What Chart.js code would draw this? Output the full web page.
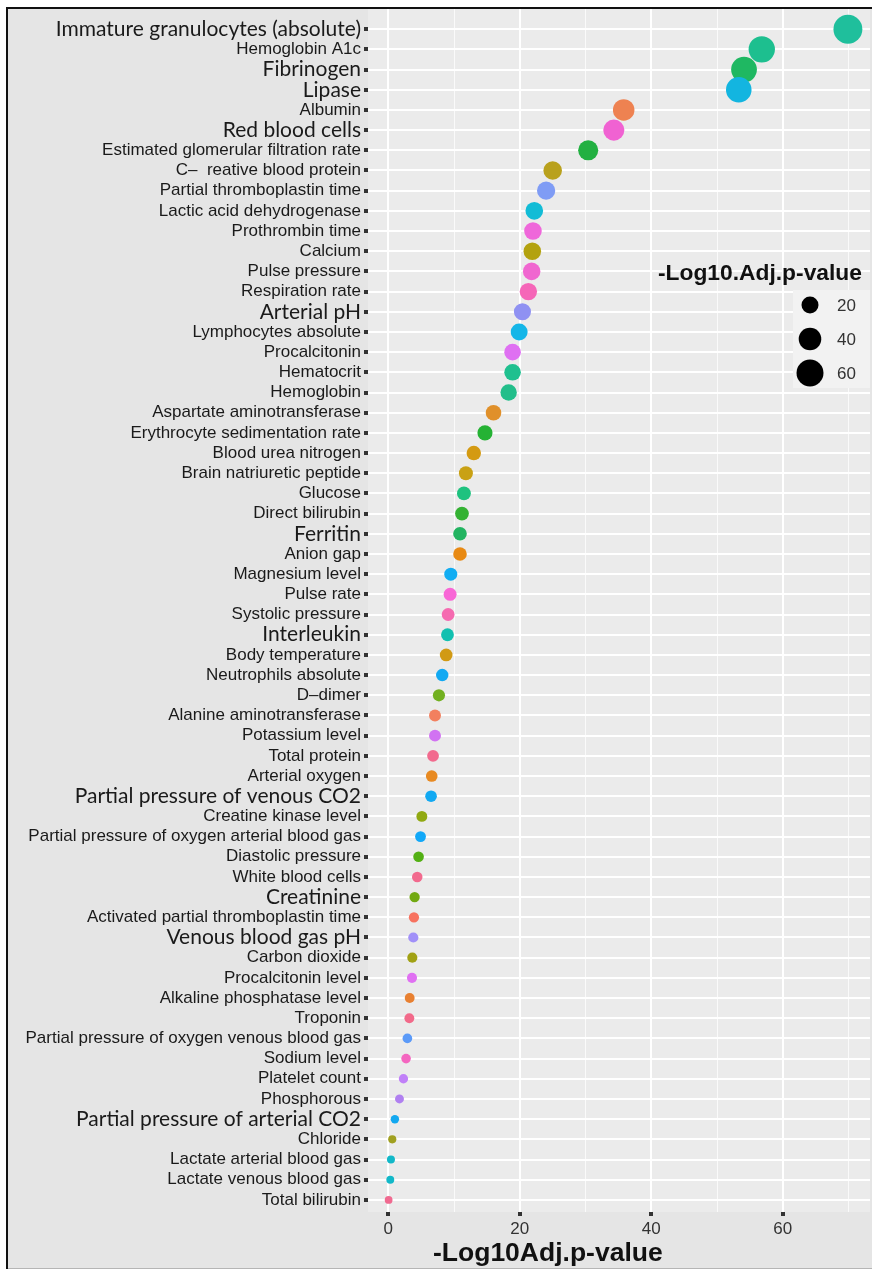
<!DOCTYPE html>
<html>
<head>
<meta charset="utf-8">
<script src="https://cdn.jsdelivr.net/npm/chart.js@4.4.0/dist/chart.umd.min.js"></script>
<style>
  body { margin: 0; background: #fff; }
  canvas { display: block; }
</style>
</head>
<body>
<canvas id="dotChart" width="872" height="1271"></canvas>
<script>
const categories = [
  "Immature granulocytes (absolute)", "Hemoglobin A1c", "Fibrinogen", "Lipase", "Albumin",
  "Red blood cells", "Estimated glomerular filtration rate", "C\u2013  reative blood protein",
  "Partial thromboplastin time", "Lactic acid dehydrogenase", "Prothrombin time", "Calcium",
  "Pulse pressure", "Respiration rate", "Arterial pH", "Lymphocytes absolute", "Procalcitonin",
  "Hematocrit", "Hemoglobin", "Aspartate aminotransferase", "Erythrocyte sedimentation rate",
  "Blood urea nitrogen", "Brain natriuretic peptide", "Glucose", "Direct bilirubin", "Ferritin",
  "Anion gap", "Magnesium level", "Pulse rate", "Systolic pressure", "Interleukin",
  "Body temperature", "Neutrophils absolute", "D\u2013dimer", "Alanine aminotransferase",
  "Potassium level", "Total protein", "Arterial oxygen", "Partial pressure of venous CO2",
  "Creatine kinase level", "Partial pressure of oxygen arterial blood gas", "Diastolic pressure",
  "White blood cells", "Creatinine", "Activated partial thromboplastin time", "Venous blood gas pH",
  "Carbon dioxide", "Procalcitonin level", "Alkaline phosphatase level", "Troponin",
  "Partial pressure of oxygen venous blood gas", "Sodium level", "Platelet count", "Phosphorous",
  "Partial pressure of arterial CO2", "Chloride", "Lactate arterial blood gas",
  "Lactate venous blood gas", "Total bilirubin"
];

const negLog10AdjP = [
  69.9, 56.8, 54.1, 53.3, 35.8, 34.3, 30.4, 25.0, 24.0, 22.2, 22.0, 21.9,
  21.8, 21.3, 20.4, 19.9, 18.9, 18.9, 18.3, 16.0, 14.7, 13.0, 11.8, 11.5,
  11.2, 10.9, 10.9, 9.5, 9.4, 9.1, 9.0, 8.8, 8.2, 7.7, 7.1, 7.1,
  6.8, 6.6, 6.5, 5.1, 4.9, 4.6, 4.4, 4.0, 3.9, 3.8, 3.65, 3.6,
  3.25, 3.2, 2.9, 2.7, 2.3, 1.7, 1.0, 0.6, 0.4, 0.3, 0.05
];

const dotColors = [
  "#1fbf9c", "#1dbf8f", "#1fb862", "#13b5e0", "#ee8251", "#f062d2", "#22b041", "#b9a11d",
  "#7f9cf5", "#12bcd6", "#ef67da", "#b3a20f", "#f066d0", "#f566b8", "#8f91f2", "#14b6e8",
  "#df70f2", "#1fc08f", "#22be8a", "#e0902a", "#25b234", "#d49a12", "#c9a114", "#1ec27f",
  "#34b233", "#22b461", "#e88a14", "#12adf2", "#f867d6", "#f56ab0", "#12c0b0", "#d19a14",
  "#12a9f2", "#72b020", "#f2805f", "#d172f2", "#f26a8e", "#e88a22", "#12a9f2", "#91a912",
  "#12a8f8", "#53b014", "#f26a8e", "#72a912", "#f7725f", "#a190f8", "#a1a114", "#e070f2",
  "#e88031", "#f26a8a", "#5b9af8", "#f466c0", "#c080f8", "#b080f0", "#12a8f0", "#a0a020",
  "#12b8c8", "#12b8c8", "#f06a90"
];

const sizeLegendValues = [20, 40, 60];
const xTickValues = [0, 10, 20, 30, 40, 50, 60, 70];

const bigLabels = new Set([
  "Immature granulocytes (absolute)", "Fibrinogen", "Lipase", "Red blood cells", "Arterial pH",
  "Ferritin", "Interleukin", "Partial pressure of venous CO2", "Creatinine",
  "Venous blood gas pH", "Partial pressure of arterial CO2"
]);

// ggplot-like area scaling for the dot size
function dotDiameter(v) {
  return Math.sqrt(45 + 10.5 * v) + 1;
}

const points = negLog10AdjP.map((v, i) => ({ x: v, y: i }));

const backdrop = {
  id: "backdrop",
  beforeDraw(chart) {
    const { ctx, chartArea: a } = chart;
    ctx.save();
    ctx.fillStyle = "#ffffff";
    ctx.fillRect(0, 0, chart.width, chart.height);
    ctx.fillStyle = "#e5e5e5";
    ctx.fillRect(8, 8, chart.width - 8, 1260);
    ctx.fillStyle = "#ebebeb";
    ctx.fillRect(a.left, a.top, a.right - a.left, a.bottom - a.top);
    ctx.fillStyle = "#111";
    ctx.fillRect(6, 7, 2, 1262);
    ctx.fillRect(6, 7, chart.width - 6, 2);
    ctx.fillStyle = "#b5b5b5";
    ctx.fillRect(8, 1268, chart.width - 8, 1);
    ctx.restore();
  },
  afterDraw(chart) {
    const { ctx } = chart;
    ctx.save();
    // x axis title
    ctx.fillStyle = "#111";
    ctx.font = "bold 26.5px 'Liberation Sans', Arial, sans-serif";
    ctx.textBaseline = "alphabetic";
    ctx.textAlign = "left";
    ctx.fillText("-Log10Adj.p-value", 433, 1261);
    // size legend
    ctx.font = "bold 22.8px 'Liberation Sans', Arial, sans-serif";
    ctx.fillText("-Log10.Adj.p-value", 658, 280);
    ctx.fillStyle = "#f2f2f2";
    ctx.fillRect(793, 290, 77, 98);
    const keyY = [305, 339, 373];
    sizeLegendValues.forEach((v, i) => {
      ctx.fillStyle = "#000";
      ctx.beginPath();
      ctx.arc(810, keyY[i], dotDiameter(v) / 2, 0, Math.PI * 2);
      ctx.fill();
      ctx.fillStyle = "#333";
      ctx.font = "17px 'Liberation Sans', Arial, sans-serif";
      ctx.textBaseline = "middle";
      ctx.fillText(String(v), 837, keyY[i] + 1);
    });
    ctx.restore();
  }
};

window.onload = () => {
  const ctx = document.getElementById("dotChart").getContext("2d");
  new Chart(ctx, {
    type: "scatter",
    data: {
      datasets: [{
        label: "-Log10.Adj.p-value",
        data: points,
        backgroundColor: dotColors,
        borderWidth: 0,
        pointRadius: (c) => dotDiameter(negLog10AdjP[c.dataIndex]) / 2,
        pointHoverRadius: (c) => dotDiameter(negLog10AdjP[c.dataIndex]) / 2
      }]
    },
    options: {
      responsive: false,
      animation: false,
      devicePixelRatio: 1,
      layout: { autoPadding: false, padding: { top: 9, right: 2, left: 0, bottom: 0 } },
      plugins: {
        legend: { display: false },
        tooltip: { enabled: false }
      },
      scales: {
        x: {
          type: "linear",
          min: -3.09,
          max: 73.26,
          afterBuildTicks: (s) => { s.ticks = xTickValues.map((v) => ({ value: v })); },
          afterFit: (s) => {
            s.height = 59;
            s.paddingLeft = 0;
            s.paddingRight = 0;
          },
          border: { display: false },
          grid: {
            color: (c) => (c.tick && c.tick.value % 20 === 0 ? "#ffffff" : "rgba(255,255,255,0.75)"),
            lineWidth: (c) => (c.tick && c.tick.value % 20 === 0 ? 2 : 1),
            tickColor: (c) => (c.tick && c.tick.value % 20 === 0 ? "#333" : "rgba(0,0,0,0)"),
            tickWidth: 4,
            tickLength: 4
          },
          ticks: {
            autoSkip: false,
            maxRotation: 0,
            padding: 3,
            color: "#333",
            font: { family: "'Liberation Sans', Arial, sans-serif", size: 17 },
            callback: (v) => (v % 20 === 0 ? String(v) : "")
          }
        },
        y: {
          type: "linear",
          reverse: true,
          min: -1.0,
          max: 58.6,
          afterBuildTicks: (s) => { s.ticks = categories.map((_, i) => ({ value: i })); },
          afterFit: (s) => {
            s.width = 368;
            s.paddingTop = 0;
            s.paddingBottom = 0;
          },
          border: { display: false },
          grid: {
            color: "#ffffff",
            lineWidth: 2,
            tickColor: "#333",
            tickWidth: 4,
            tickLength: 4
          },
          ticks: {
            autoSkip: false,
            padding: 3,
            color: "#1a1a1a",
            font: (c) => {
              const label = categories[c.tick ? c.tick.value : c.index];
              return bigLabels.has(label)
                ? { family: "Lato, 'Open Sans', sans-serif", size: 21 }
                : { family: "'Liberation Sans', Arial, sans-serif", size: 17 };
            },
            callback: (v) => categories[v] || ""
          }
        }
      }
    },
    plugins: [backdrop]
  });
};
</script>
</body>
</html>
